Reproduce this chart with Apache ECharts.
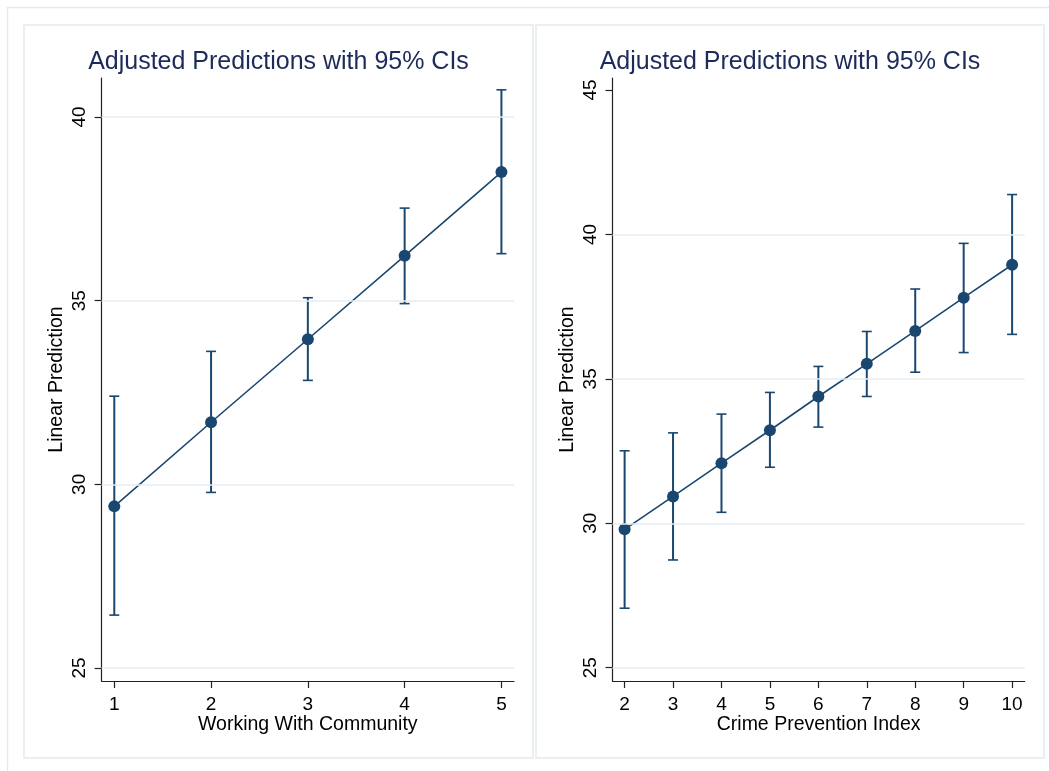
<!DOCTYPE html>
<html><head><meta charset="utf-8">
<script src="https://cdn.jsdelivr.net/npm/echarts@6/dist/echarts.min.js"></script>
<style>html,body{margin:0;padding:0;background:#fff}#c{width:1049px;height:771px}</style>
</head><body><div id="c"></div>
<script>
// ---- text ----
const titleText = 'Adjusted Predictions with 95% CIs';
const yName = 'Linear Prediction';
const leftXName = 'Working With Community';
const rightXName = 'Crime Prevention Index';

// ---- left panel data ----
const leftX = [1, 2, 3, 4, 5];
const leftPred = [29.40, 31.69, 33.95, 36.22, 38.50];
const leftLow = [26.44, 29.78, 32.83, 34.92, 36.28];
const leftHigh = [32.40, 33.62, 35.08, 37.52, 40.74];
const leftXTicks = [1, 2, 3, 4, 5];
const leftYTicks = [25, 30, 35, 40];
const leftGridLines = [25, 30, 35, 40];

// ---- right panel data ----
const rightX = [2, 3, 4, 5, 6, 7, 8, 9, 10];
const rightPred = [29.79, 30.93, 32.08, 33.22, 34.39, 35.52, 36.66, 37.81, 38.95];
const rightLow = [27.06, 28.73, 30.38, 31.94, 33.33, 34.39, 35.23, 35.91, 36.54];
const rightHigh = [32.51, 33.13, 33.78, 34.53, 35.43, 36.64, 38.11, 39.69, 41.38];
const rightXTicks = [2, 3, 4, 5, 6, 7, 8, 9, 10];
const rightYTicks = [25, 30, 35, 40, 45];
const rightGridLines = [25, 30, 35, 40];

const NAVY = '#1a476f';
const TITLE = '#1c2b5a';
const GRIDC = '#e4edf1';
const FRAME = '#e3eaee';
const AXISC = '#222222';
const FONT = '"Liberation Sans", Arial, Helvetica, sans-serif';

function errRender(params, api) {
  const x = api.value(0), lo = api.value(1), hi = api.value(2);
  const a = api.coord([x, lo]), b = api.coord([x, hi]);
  const w = 5;
  const st = { stroke: NAVY, lineWidth: 2, fill: null };
  const st2 = { stroke: NAVY, lineWidth: 1.6, fill: null };
  return { type: 'group', children: [
    { type: 'line', shape: { x1: a[0], y1: a[1], x2: b[0], y2: b[1] }, style: st },
    { type: 'line', shape: { x1: a[0] - w, y1: a[1], x2: a[0] + w, y2: a[1] }, style: st2 },
    { type: 'line', shape: { x1: b[0] - w, y1: b[1], x2: b[0] + w, y2: b[1] }, style: st2 }
  ]};
}

function xAxis(gi, min, max, ticks, name) {
  return { type: 'value', gridIndex: gi, min: min, max: max, name: name,
    nameLocation: 'middle', nameGap: 34, nameMoveOverlap: false,
    nameTextStyle: { fontSize: 19.5, color: '#000', fontFamily: FONT },
    axisLine: { show: true, onZero: false, lineStyle: { color: AXISC, width: 1.2 } },
    axisTick: { show: true, length: 7, customValues: ticks, lineStyle: { color: AXISC, width: 1.2 } },
    axisLabel: { customValues: ticks, fontSize: 19, color: '#000', margin: 14, fontFamily: FONT },
    splitLine: { show: false } };
}
function yAxis(gi, min, max, ticks) {
  return { type: 'value', gridIndex: gi, min: min, max: max, name: yName,
    nameLocation: 'middle', nameGap: 35, nameMoveOverlap: false,
    nameTextStyle: { fontSize: 19.5, color: '#000', fontFamily: FONT },
    axisLine: { show: true, onZero: false, lineStyle: { color: AXISC, width: 1.2 } },
    axisTick: { show: true, length: 7, customValues: ticks, lineStyle: { color: AXISC, width: 1.2 } },
    axisLabel: { customValues: ticks, rotate: 90, fontSize: 19, color: '#000', margin: 12, fontFamily: FONT },
    splitLine: { show: false } };
}
function gridSeries(i, vals) {
  return { type: 'line', xAxisIndex: i, yAxisIndex: i, data: [], silent: true, z: 1,
    markLine: { silent: true, symbol: ['none', 'none'], label: { show: false },
      lineStyle: { color: GRIDC, width: 1.5, type: 'solid' }, emphasis: { disabled: true },
      animation: false, data: vals.map(v => ({ yAxis: v })) } };
}
function lineSeries(i, xs, ys) {
  return { type: 'line', xAxisIndex: i, yAxisIndex: i, z: 4,
    data: xs.map((x, k) => [x, ys[k]]), symbol: 'circle', symbolSize: 12,
    lineStyle: { color: NAVY, width: 1.6 }, itemStyle: { color: NAVY }, silent: true };
}
function errSeries(i, xs, lo, hi) {
  return { type: 'custom', xAxisIndex: i, yAxisIndex: i, z: 3, silent: true,
    renderItem: errRender, encode: { x: 0, y: [1, 2] },
    data: xs.map((x, k) => [x, lo[k], hi[k]]) };
}

const chart = echarts.init(document.getElementById('c'), null, { renderer: 'canvas' });
chart.setOption({
  animation: false,
  backgroundColor: '#ffffff',
  textStyle: { fontFamily: FONT },
  title: [
    { text: titleText, left: 278.5, top: 50, textAlign: 'center', padding: 0,
      textStyle: { fontSize: 25, fontWeight: 'normal', color: TITLE, fontFamily: FONT } },
    { text: titleText, left: 790, top: 50, textAlign: 'center', padding: 0,
      textStyle: { fontSize: 25, fontWeight: 'normal', color: TITLE, fontFamily: FONT } }
  ],
  graphic: [
    { type: 'rect', z: -10, silent: true, shape: { x: 7.5, y: 7.5, width: 1200, height: 900 }, style: { fill: null, stroke: FRAME, lineWidth: 1.5 } },
    { type: 'rect', z: -10, silent: true, shape: { x: 24, y: 25, width: 509, height: 733 }, style: { fill: null, stroke: FRAME, lineWidth: 1.5 } },
    { type: 'rect', z: -10, silent: true, shape: { x: 536, y: 25, width: 508, height: 733 }, style: { fill: null, stroke: FRAME, lineWidth: 1.5 } }
  ],
  grid: [
    { left: 101.6, right: 535, top: 78, bottom: 90 },
    { left: 612.5, right: 24.3, top: 78, bottom: 90 }
  ],
  xAxis: [
    xAxis(0, 0.869, 5.13, leftXTicks, leftXName),
    xAxis(1, 1.75, 10.26, rightXTicks, rightXName)
  ],
  yAxis: [
    yAxis(0, 24.646, 41.062, leftYTicks),
    yAxis(1, 24.54, 45.415, rightYTicks)
  ],
  series: [
    gridSeries(0, leftGridLines),
    gridSeries(1, rightGridLines),
    errSeries(0, leftX, leftLow, leftHigh),
    errSeries(1, rightX, rightLow, rightHigh),
    lineSeries(0, leftX, leftPred),
    lineSeries(1, rightX, rightPred)
  ]
});
</script>
</body></html>
